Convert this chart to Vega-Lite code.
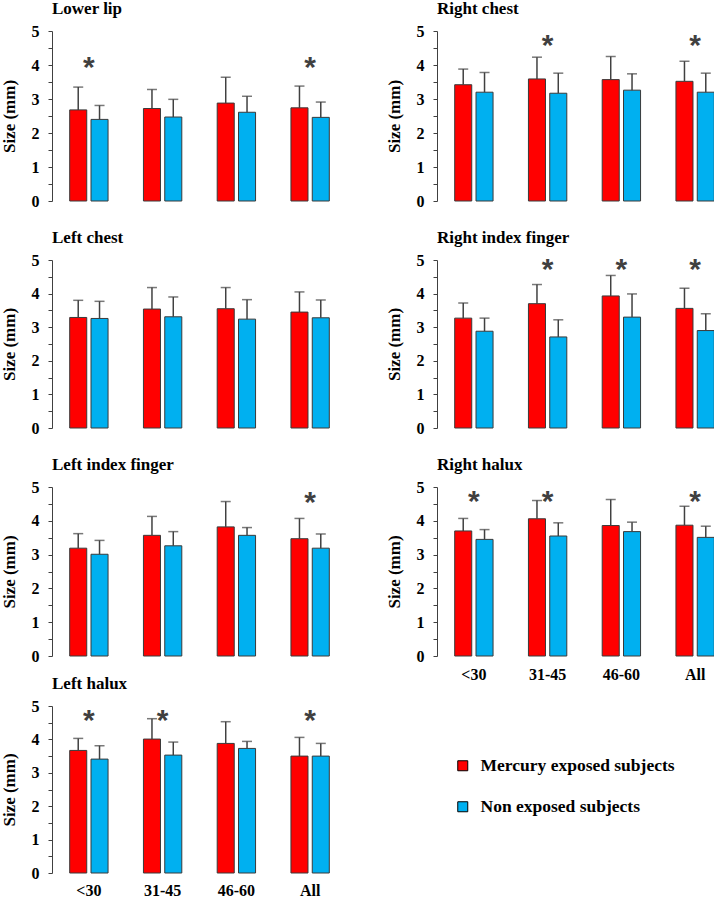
{
"$schema": "https://vega.github.io/schema/vega-lite/v6.json",
"padding": {"top": 0, "left": 0, "right": 0, "bottom": 0},
"background": "white",
"datasets": {
"bars": [
{"panel":"Lower lip","age":"<30","group":"Mercury exposed subjects","mean":2.68,"upper":3.35},
{"panel":"Lower lip","age":"<30","group":"Non exposed subjects","mean":2.40,"upper":2.81},
{"panel":"Lower lip","age":"31-45","group":"Mercury exposed subjects","mean":2.72,"upper":3.28},
{"panel":"Lower lip","age":"31-45","group":"Non exposed subjects","mean":2.47,"upper":2.99},
{"panel":"Lower lip","age":"46-60","group":"Mercury exposed subjects","mean":2.88,"upper":3.64},
{"panel":"Lower lip","age":"46-60","group":"Non exposed subjects","mean":2.61,"upper":3.08},
{"panel":"Lower lip","age":"All","group":"Mercury exposed subjects","mean":2.74,"upper":3.38},
{"panel":"Lower lip","age":"All","group":"Non exposed subjects","mean":2.46,"upper":2.91},
{"panel":"Right chest","age":"<30","group":"Mercury exposed subjects","mean":3.42,"upper":3.88},
{"panel":"Right chest","age":"<30","group":"Non exposed subjects","mean":3.20,"upper":3.78},
{"panel":"Right chest","age":"31-45","group":"Mercury exposed subjects","mean":3.59,"upper":4.23},
{"panel":"Right chest","age":"31-45","group":"Non exposed subjects","mean":3.17,"upper":3.76},
{"panel":"Right chest","age":"46-60","group":"Mercury exposed subjects","mean":3.57,"upper":4.25},
{"panel":"Right chest","age":"46-60","group":"Non exposed subjects","mean":3.26,"upper":3.74},
{"panel":"Right chest","age":"All","group":"Mercury exposed subjects","mean":3.52,"upper":4.11},
{"panel":"Right chest","age":"All","group":"Non exposed subjects","mean":3.20,"upper":3.76},
{"panel":"Left chest","age":"<30","group":"Mercury exposed subjects","mean":3.29,"upper":3.80},
{"panel":"Left chest","age":"<30","group":"Non exposed subjects","mean":3.26,"upper":3.77},
{"panel":"Left chest","age":"31-45","group":"Mercury exposed subjects","mean":3.54,"upper":4.18},
{"panel":"Left chest","age":"31-45","group":"Non exposed subjects","mean":3.31,"upper":3.90},
{"panel":"Left chest","age":"46-60","group":"Mercury exposed subjects","mean":3.55,"upper":4.18},
{"panel":"Left chest","age":"46-60","group":"Non exposed subjects","mean":3.24,"upper":3.82},
{"panel":"Left chest","age":"All","group":"Mercury exposed subjects","mean":3.45,"upper":4.05},
{"panel":"Left chest","age":"All","group":"Non exposed subjects","mean":3.28,"upper":3.81},
{"panel":"Right index finger","age":"<30","group":"Mercury exposed subjects","mean":3.27,"upper":3.72},
{"panel":"Right index finger","age":"<30","group":"Non exposed subjects","mean":2.88,"upper":3.27},
{"panel":"Right index finger","age":"31-45","group":"Mercury exposed subjects","mean":3.70,"upper":4.27},
{"panel":"Right index finger","age":"31-45","group":"Non exposed subjects","mean":2.71,"upper":3.22},
{"panel":"Right index finger","age":"46-60","group":"Mercury exposed subjects","mean":3.93,"upper":4.54},
{"panel":"Right index finger","age":"46-60","group":"Non exposed subjects","mean":3.30,"upper":3.99},
{"panel":"Right index finger","age":"All","group":"Mercury exposed subjects","mean":3.56,"upper":4.16},
{"panel":"Right index finger","age":"All","group":"Non exposed subjects","mean":2.90,"upper":3.40},
{"panel":"Left index finger","age":"<30","group":"Mercury exposed subjects","mean":3.19,"upper":3.62},
{"panel":"Left index finger","age":"<30","group":"Non exposed subjects","mean":3.01,"upper":3.42},
{"panel":"Left index finger","age":"31-45","group":"Mercury exposed subjects","mean":3.57,"upper":4.13},
{"panel":"Left index finger","age":"31-45","group":"Non exposed subjects","mean":3.26,"upper":3.68},
{"panel":"Left index finger","age":"46-60","group":"Mercury exposed subjects","mean":3.82,"upper":4.57},
{"panel":"Left index finger","age":"46-60","group":"Non exposed subjects","mean":3.57,"upper":3.80},
{"panel":"Left index finger","age":"All","group":"Mercury exposed subjects","mean":3.47,"upper":4.07},
{"panel":"Left index finger","age":"All","group":"Non exposed subjects","mean":3.19,"upper":3.61},
{"panel":"Right halux","age":"<30","group":"Mercury exposed subjects","mean":3.70,"upper":4.07},
{"panel":"Right halux","age":"<30","group":"Non exposed subjects","mean":3.45,"upper":3.74},
{"panel":"Right halux","age":"31-45","group":"Mercury exposed subjects","mean":4.06,"upper":4.60},
{"panel":"Right halux","age":"31-45","group":"Non exposed subjects","mean":3.55,"upper":3.94},
{"panel":"Right halux","age":"46-60","group":"Mercury exposed subjects","mean":3.86,"upper":4.63},
{"panel":"Right halux","age":"46-60","group":"Non exposed subjects","mean":3.68,"upper":3.96},
{"panel":"Right halux","age":"All","group":"Mercury exposed subjects","mean":3.87,"upper":4.43},
{"panel":"Right halux","age":"All","group":"Non exposed subjects","mean":3.51,"upper":3.84},
{"panel":"Left halux","age":"<30","group":"Mercury exposed subjects","mean":3.67,"upper":4.03},
{"panel":"Left halux","age":"<30","group":"Non exposed subjects","mean":3.41,"upper":3.81},
{"panel":"Left halux","age":"31-45","group":"Mercury exposed subjects","mean":4.01,"upper":4.62},
{"panel":"Left halux","age":"31-45","group":"Non exposed subjects","mean":3.53,"upper":3.92},
{"panel":"Left halux","age":"46-60","group":"Mercury exposed subjects","mean":3.88,"upper":4.53},
{"panel":"Left halux","age":"46-60","group":"Non exposed subjects","mean":3.73,"upper":3.94},
{"panel":"Left halux","age":"All","group":"Mercury exposed subjects","mean":3.50,"upper":4.06},
{"panel":"Left halux","age":"All","group":"Non exposed subjects","mean":3.50,"upper":3.88}
],
"stars": [
{"panel":"Lower lip","age":"<30","y":4.16},
{"panel":"Lower lip","age":"All","y":4.16},
{"panel":"Right chest","age":"31-45","y":4.80},
{"panel":"Right chest","age":"All","y":4.80},
{"panel":"Right index finger","age":"31-45","y":4.95},
{"panel":"Right index finger","age":"46-60","y":4.95},
{"panel":"Right index finger","age":"All","y":4.95},
{"panel":"Left index finger","age":"All","y":4.75},
{"panel":"Right halux","age":"<30","y":4.80},
{"panel":"Right halux","age":"31-45","y":4.80},
{"panel":"Right halux","age":"All","y":4.80},
{"panel":"Left halux","age":"<30","y":4.78},
{"panel":"Left halux","age":"31-45","y":4.78},
{"panel":"Left halux","age":"All","y":4.78}
]
},
"hconcat": [
{"spacing": 11, "vconcat": [
{"spacing": 20, "vconcat": [
{"title": "Lower lip", "width": 295, "height": 170,
 "encoding": {"x": {"field":"age","type":"nominal","sort":["<30","31-45","46-60","All"],"scale":{"paddingInner":0.48,"paddingOuter":0.24},"axis":null},
  "y": {"field":"mean","type":"quantitative","scale":{"domain":[0,5],"nice":false},"axis":{"title":"Size (mm)","values":[0,0.5,1,1.5,2,2.5,3,3.5,4,4.5,5],"labelExpr":"datum.value % 1 === 0 ? format(datum.value, 'd') : ''","tickSize":4,"labelPadding":9,"titlePadding":13}}},
 "layer": [
  {"data":{"name":"bars"},"transform":[{"filter":"datum.panel === 'Lower lip'"}],"mark":{"type":"bar","stroke":"#3a3a3a","strokeWidth":1},"encoding":{"xOffset":{"field":"group","type":"nominal","scale":{"paddingInner":0.2}},"color":{"field":"group","type":"nominal","scale":{"domain":["Mercury exposed subjects","Non exposed subjects"],"range":["#FF0000","#00B0F0"]}}}},
  {"data":{"name":"bars"},"transform":[{"filter":"datum.panel === 'Lower lip'"}],"mark":{"type":"rule","color":"#404040","strokeWidth":1.5},"encoding":{"xOffset":{"field":"group","type":"nominal"},"y2":{"field":"upper"}}},
  {"data":{"name":"bars"},"transform":[{"filter":"datum.panel === 'Lower lip'"}],"mark":{"type":"tick","color":"#404040","thickness":1.5,"size":10},"encoding":{"xOffset":{"field":"group","type":"nominal"},"y":{"field":"upper","type":"quantitative","title":"Size (mm)"}}},
  {"data":{"name":"stars"},"transform":[{"filter":"datum.panel === 'Lower lip'"}],"mark":{"type":"text","text":"*","font":"Liberation Sans","fontWeight":"bold","fontSize":30,"color":"#404040","baseline":"alphabetic","dy":17},"encoding":{"y":{"field":"y","type":"quantitative","title":"Size (mm)"}}}
 ]},
{"title": "Left chest", "width": 295, "height": 168,
 "encoding": {"x": {"field":"age","type":"nominal","sort":["<30","31-45","46-60","All"],"scale":{"paddingInner":0.48,"paddingOuter":0.24},"axis":null},
  "y": {"field":"mean","type":"quantitative","scale":{"domain":[0,5],"nice":false},"axis":{"title":"Size (mm)","values":[0,0.5,1,1.5,2,2.5,3,3.5,4,4.5,5],"labelExpr":"datum.value % 1 === 0 ? format(datum.value, 'd') : ''","tickSize":4,"labelPadding":9,"titlePadding":13}}},
 "layer": [
  {"data":{"name":"bars"},"transform":[{"filter":"datum.panel === 'Left chest'"}],"mark":{"type":"bar","stroke":"#3a3a3a","strokeWidth":1},"encoding":{"xOffset":{"field":"group","type":"nominal","scale":{"paddingInner":0.2}},"color":{"field":"group","type":"nominal","scale":{"domain":["Mercury exposed subjects","Non exposed subjects"],"range":["#FF0000","#00B0F0"]}}}},
  {"data":{"name":"bars"},"transform":[{"filter":"datum.panel === 'Left chest'"}],"mark":{"type":"rule","color":"#404040","strokeWidth":1.5},"encoding":{"xOffset":{"field":"group","type":"nominal"},"y2":{"field":"upper"}}},
  {"data":{"name":"bars"},"transform":[{"filter":"datum.panel === 'Left chest'"}],"mark":{"type":"tick","color":"#404040","thickness":1.5,"size":10},"encoding":{"xOffset":{"field":"group","type":"nominal"},"y":{"field":"upper","type":"quantitative","title":"Size (mm)"}}}
 ]},
{"title": "Left index finger", "width": 295, "height": 169,
 "encoding": {"x": {"field":"age","type":"nominal","sort":["<30","31-45","46-60","All"],"scale":{"paddingInner":0.48,"paddingOuter":0.24},"axis":null},
  "y": {"field":"mean","type":"quantitative","scale":{"domain":[0,5],"nice":false},"axis":{"title":"Size (mm)","values":[0,0.5,1,1.5,2,2.5,3,3.5,4,4.5,5],"labelExpr":"datum.value % 1 === 0 ? format(datum.value, 'd') : ''","tickSize":4,"labelPadding":9,"titlePadding":13}}},
 "layer": [
  {"data":{"name":"bars"},"transform":[{"filter":"datum.panel === 'Left index finger'"}],"mark":{"type":"bar","stroke":"#3a3a3a","strokeWidth":1},"encoding":{"xOffset":{"field":"group","type":"nominal","scale":{"paddingInner":0.2}},"color":{"field":"group","type":"nominal","scale":{"domain":["Mercury exposed subjects","Non exposed subjects"],"range":["#FF0000","#00B0F0"]}}}},
  {"data":{"name":"bars"},"transform":[{"filter":"datum.panel === 'Left index finger'"}],"mark":{"type":"rule","color":"#404040","strokeWidth":1.5},"encoding":{"xOffset":{"field":"group","type":"nominal"},"y2":{"field":"upper"}}},
  {"data":{"name":"bars"},"transform":[{"filter":"datum.panel === 'Left index finger'"}],"mark":{"type":"tick","color":"#404040","thickness":1.5,"size":10},"encoding":{"xOffset":{"field":"group","type":"nominal"},"y":{"field":"upper","type":"quantitative","title":"Size (mm)"}}},
  {"data":{"name":"stars"},"transform":[{"filter":"datum.panel === 'Left index finger'"}],"mark":{"type":"text","text":"*","font":"Liberation Sans","fontWeight":"bold","fontSize":30,"color":"#404040","baseline":"alphabetic","dy":17},"encoding":{"y":{"field":"y","type":"quantitative","title":"Size (mm)"}}}
 ]}
]},
{"title": "Left halux", "width": 295, "height": 167,
 "encoding": {"x": {"field":"age","type":"nominal","sort":["<30","31-45","46-60","All"],"scale":{"paddingInner":0.48,"paddingOuter":0.24},"axis":{"title":null,"domain":false,"ticks":false,"labelAngle":0,"labelPadding":9}},
  "y": {"field":"mean","type":"quantitative","scale":{"domain":[0,5],"nice":false},"axis":{"title":"Size (mm)","values":[0,0.5,1,1.5,2,2.5,3,3.5,4,4.5,5],"labelExpr":"datum.value % 1 === 0 ? format(datum.value, 'd') : ''","tickSize":4,"labelPadding":9,"titlePadding":13}}},
 "layer": [
  {"data":{"name":"bars"},"transform":[{"filter":"datum.panel === 'Left halux'"}],"mark":{"type":"bar","stroke":"#3a3a3a","strokeWidth":1},"encoding":{"xOffset":{"field":"group","type":"nominal","scale":{"paddingInner":0.2}},"color":{"field":"group","type":"nominal","scale":{"domain":["Mercury exposed subjects","Non exposed subjects"],"range":["#FF0000","#00B0F0"]}}}},
  {"data":{"name":"bars"},"transform":[{"filter":"datum.panel === 'Left halux'"}],"mark":{"type":"rule","color":"#404040","strokeWidth":1.5},"encoding":{"xOffset":{"field":"group","type":"nominal"},"y2":{"field":"upper"}}},
  {"data":{"name":"bars"},"transform":[{"filter":"datum.panel === 'Left halux'"}],"mark":{"type":"tick","color":"#404040","thickness":1.5,"size":10},"encoding":{"xOffset":{"field":"group","type":"nominal"},"y":{"field":"upper","type":"quantitative","title":"Size (mm)"}}},
  {"data":{"name":"stars"},"transform":[{"filter":"datum.panel === 'Left halux'"}],"mark":{"type":"text","text":"*","font":"Liberation Sans","fontWeight":"bold","fontSize":30,"color":"#404040","baseline":"alphabetic","dy":17},"encoding":{"y":{"field":"y","type":"quantitative","title":"Size (mm)"}}}
 ]}
]},
{"spacing": 20, "vconcat": [
{"title": "Right chest", "width": 295, "height": 170,
 "encoding": {"x": {"field":"age","type":"nominal","sort":["<30","31-45","46-60","All"],"scale":{"paddingInner":0.48,"paddingOuter":0.24},"axis":null},
  "y": {"field":"mean","type":"quantitative","scale":{"domain":[0,5],"nice":false},"axis":{"title":"Size (mm)","values":[0,0.5,1,1.5,2,2.5,3,3.5,4,4.5,5],"labelExpr":"datum.value % 1 === 0 ? format(datum.value, 'd') : ''","tickSize":4,"labelPadding":9,"titlePadding":13}}},
 "layer": [
  {"data":{"name":"bars"},"transform":[{"filter":"datum.panel === 'Right chest'"}],"mark":{"type":"bar","stroke":"#3a3a3a","strokeWidth":1},"encoding":{"xOffset":{"field":"group","type":"nominal","scale":{"paddingInner":0.2}},"color":{"field":"group","type":"nominal","scale":{"domain":["Mercury exposed subjects","Non exposed subjects"],"range":["#FF0000","#00B0F0"]}}}},
  {"data":{"name":"bars"},"transform":[{"filter":"datum.panel === 'Right chest'"}],"mark":{"type":"rule","color":"#404040","strokeWidth":1.5},"encoding":{"xOffset":{"field":"group","type":"nominal"},"y2":{"field":"upper"}}},
  {"data":{"name":"bars"},"transform":[{"filter":"datum.panel === 'Right chest'"}],"mark":{"type":"tick","color":"#404040","thickness":1.5,"size":10},"encoding":{"xOffset":{"field":"group","type":"nominal"},"y":{"field":"upper","type":"quantitative","title":"Size (mm)"}}},
  {"data":{"name":"stars"},"transform":[{"filter":"datum.panel === 'Right chest'"}],"mark":{"type":"text","text":"*","font":"Liberation Sans","fontWeight":"bold","fontSize":30,"color":"#404040","baseline":"alphabetic","dy":17},"encoding":{"y":{"field":"y","type":"quantitative","title":"Size (mm)"}}}
 ]},
{"title": "Right index finger", "width": 295, "height": 168,
 "encoding": {"x": {"field":"age","type":"nominal","sort":["<30","31-45","46-60","All"],"scale":{"paddingInner":0.48,"paddingOuter":0.24},"axis":null},
  "y": {"field":"mean","type":"quantitative","scale":{"domain":[0,5],"nice":false},"axis":{"title":"Size (mm)","values":[0,0.5,1,1.5,2,2.5,3,3.5,4,4.5,5],"labelExpr":"datum.value % 1 === 0 ? format(datum.value, 'd') : ''","tickSize":4,"labelPadding":9,"titlePadding":13}}},
 "layer": [
  {"data":{"name":"bars"},"transform":[{"filter":"datum.panel === 'Right index finger'"}],"mark":{"type":"bar","stroke":"#3a3a3a","strokeWidth":1},"encoding":{"xOffset":{"field":"group","type":"nominal","scale":{"paddingInner":0.2}},"color":{"field":"group","type":"nominal","scale":{"domain":["Mercury exposed subjects","Non exposed subjects"],"range":["#FF0000","#00B0F0"]}}}},
  {"data":{"name":"bars"},"transform":[{"filter":"datum.panel === 'Right index finger'"}],"mark":{"type":"rule","color":"#404040","strokeWidth":1.5},"encoding":{"xOffset":{"field":"group","type":"nominal"},"y2":{"field":"upper"}}},
  {"data":{"name":"bars"},"transform":[{"filter":"datum.panel === 'Right index finger'"}],"mark":{"type":"tick","color":"#404040","thickness":1.5,"size":10},"encoding":{"xOffset":{"field":"group","type":"nominal"},"y":{"field":"upper","type":"quantitative","title":"Size (mm)"}}},
  {"data":{"name":"stars"},"transform":[{"filter":"datum.panel === 'Right index finger'"}],"mark":{"type":"text","text":"*","font":"Liberation Sans","fontWeight":"bold","fontSize":30,"color":"#404040","baseline":"alphabetic","dy":17},"encoding":{"y":{"field":"y","type":"quantitative","title":"Size (mm)"}}}
 ]},
{"title": "Right halux", "width": 295, "height": 169,
 "encoding": {"x": {"field":"age","type":"nominal","sort":["<30","31-45","46-60","All"],"scale":{"paddingInner":0.48,"paddingOuter":0.24},"axis":{"title":null,"domain":false,"ticks":false,"labelAngle":0,"labelPadding":10}},
  "y": {"field":"mean","type":"quantitative","scale":{"domain":[0,5],"nice":false},"axis":{"title":"Size (mm)","values":[0,0.5,1,1.5,2,2.5,3,3.5,4,4.5,5],"labelExpr":"datum.value % 1 === 0 ? format(datum.value, 'd') : ''","tickSize":4,"labelPadding":9,"titlePadding":13}}},
 "layer": [
  {"data":{"name":"bars"},"transform":[{"filter":"datum.panel === 'Right halux'"}],"mark":{"type":"bar","stroke":"#3a3a3a","strokeWidth":1},"encoding":{"xOffset":{"field":"group","type":"nominal","scale":{"paddingInner":0.2}},"color":{"field":"group","type":"nominal","scale":{"domain":["Mercury exposed subjects","Non exposed subjects"],"range":["#FF0000","#00B0F0"]}}}},
  {"data":{"name":"bars"},"transform":[{"filter":"datum.panel === 'Right halux'"}],"mark":{"type":"rule","color":"#404040","strokeWidth":1.5},"encoding":{"xOffset":{"field":"group","type":"nominal"},"y2":{"field":"upper"}}},
  {"data":{"name":"bars"},"transform":[{"filter":"datum.panel === 'Right halux'"}],"mark":{"type":"tick","color":"#404040","thickness":1.5,"size":10},"encoding":{"xOffset":{"field":"group","type":"nominal"},"y":{"field":"upper","type":"quantitative","title":"Size (mm)"}}},
  {"data":{"name":"stars"},"transform":[{"filter":"datum.panel === 'Right halux'"}],"mark":{"type":"text","text":"*","font":"Liberation Sans","fontWeight":"bold","fontSize":30,"color":"#404040","baseline":"alphabetic","dy":17},"encoding":{"y":{"field":"y","type":"quantitative","title":"Size (mm)"}}}
 ]}
]}
],
"spacing": 38,
"config": {
 "view": {"stroke": null},
 "axis": {"labelFont":"Liberation Serif","labelFontWeight":"bold","labelFontSize":16,"labelColor":"#000","titleFont":"Liberation Serif","titleFontWeight":"bold","titleFontSize":17,"titleColor":"#000","domainColor":"#404040","tickColor":"#404040","grid":false},
 "title": {"font":"Liberation Serif","fontWeight":"bold","fontSize":17,"anchor":"start","frame":"group","offset":5,"color":"#000"},
 "legend": {"orient":"none","legendX":402,"legendY":726,"title":null,"symbolType":"square","symbolSize":100,"symbolStrokeColor":"#000","symbolStrokeWidth":1,"symbolOpacity":1,"labelFont":"Liberation Serif","labelFontWeight":"bold","labelFontSize":17.5,"labelColor":"#000","labelOffset":9,"rowPadding":22,"labelLimit":400}
}
}
